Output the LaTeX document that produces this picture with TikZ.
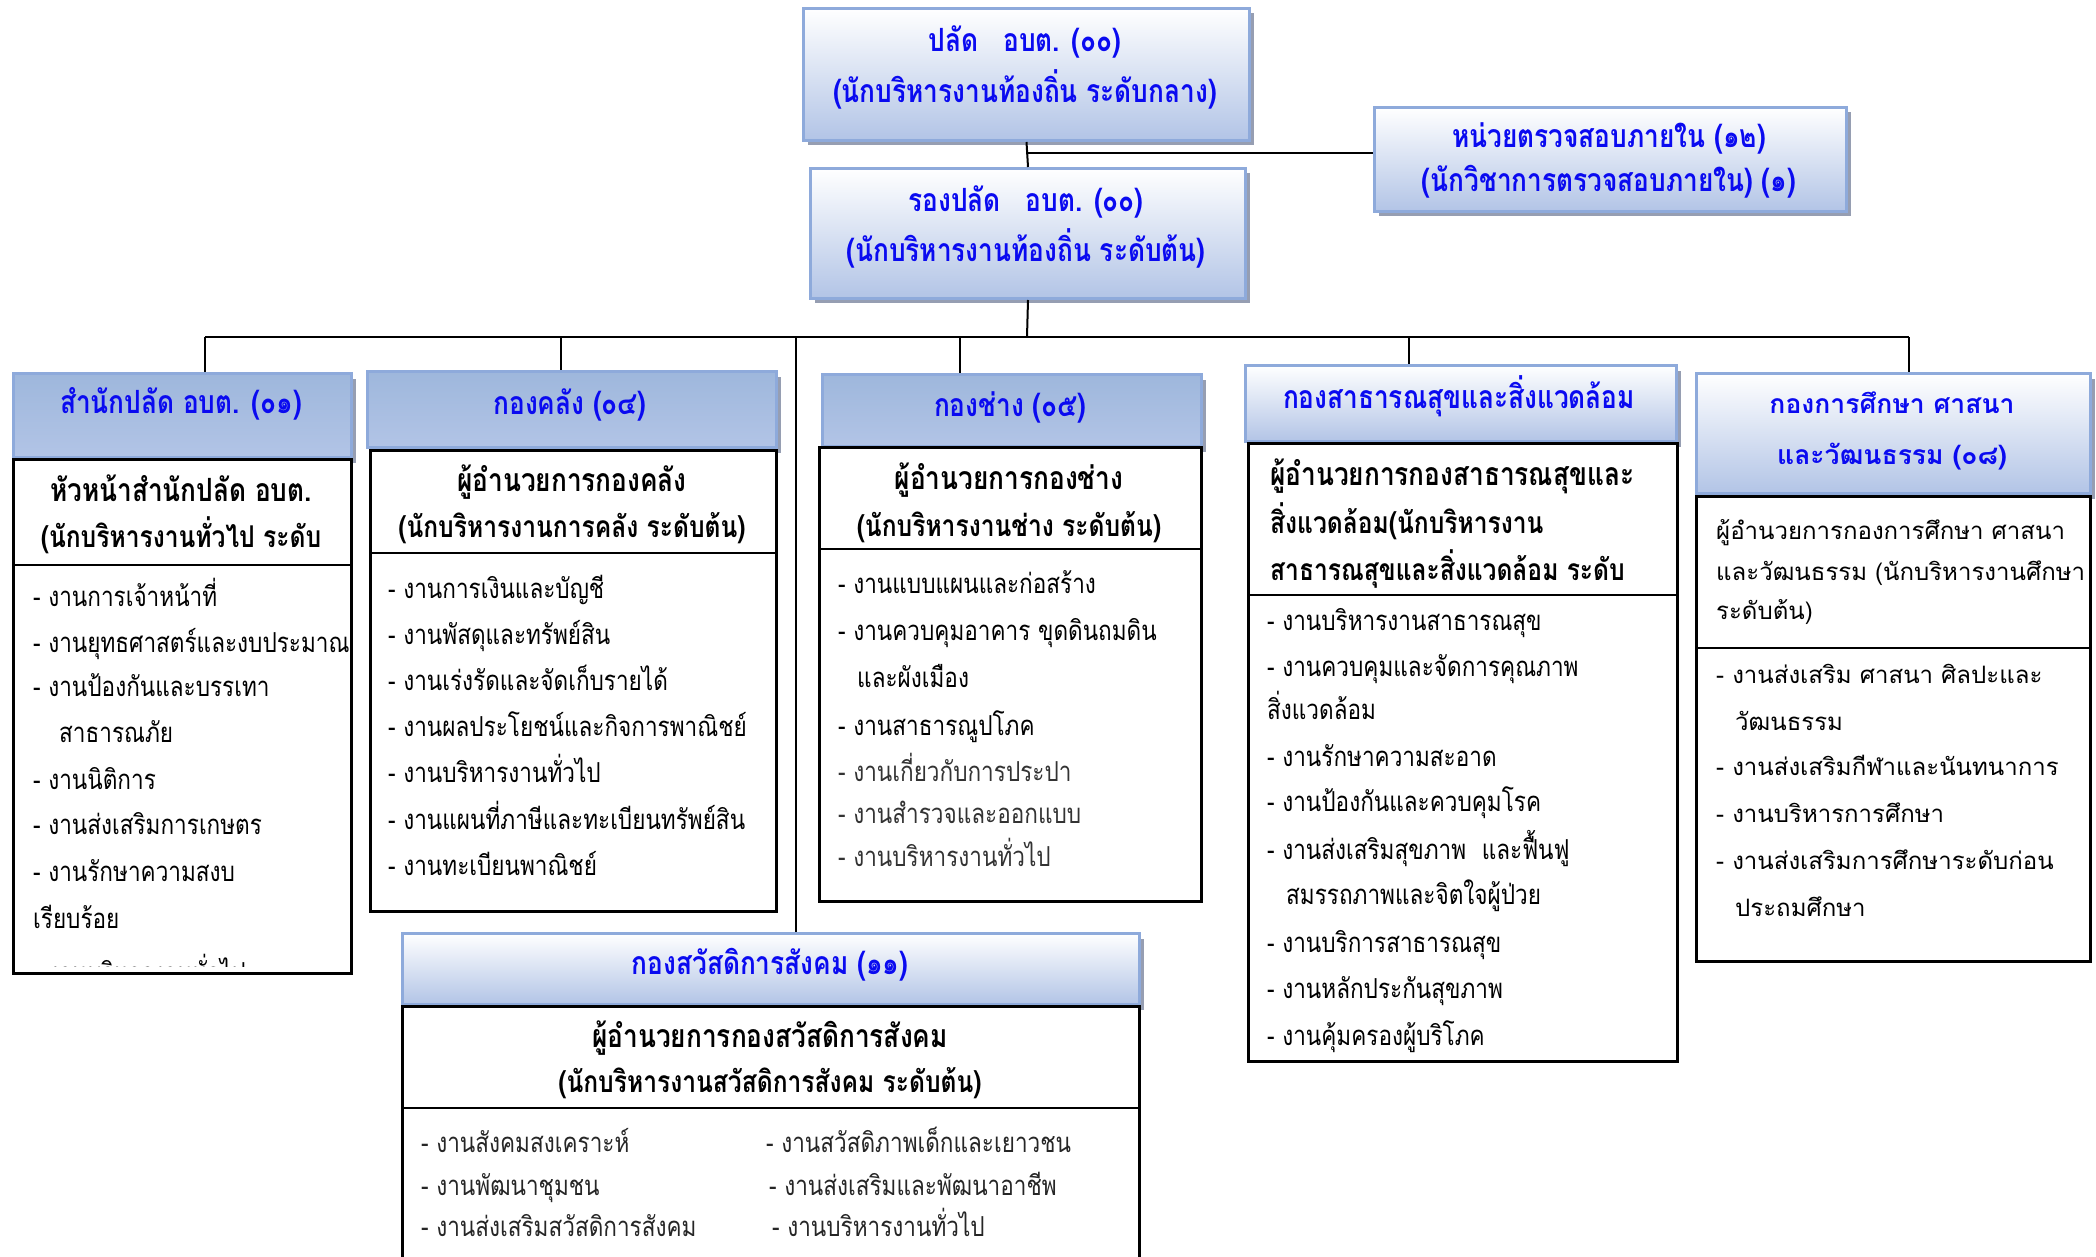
\documentclass[tikz,border=0pt]{standalone}
\usepackage{fontspec}
\setmainfont{Loma}[Script=Thai, FakeStretch=0.82]
\newfontfamily\lomaw{Loma}[Script=Thai]
\usetikzlibrary{shadows}
\definecolor{hdtext}{RGB}{10,10,240}
\definecolor{hdborder}{RGB}{142,170,219}
\definecolor{hdbot}{RGB}{178,196,230}
\definecolor{hdtop}{RGB}{158,183,220}
\definecolor{hdmid}{RGB}{222,231,243}
\definecolor{shad}{RGB}{150,158,178}
\begin{document}
\begin{tikzpicture}[x=1pt,y=-1pt,
  hdr/.style={draw=hdborder, line width=3pt, anchor=north west, inner sep=0pt,
    top color=white, bottom color=hdbot,
    drop shadow={shadow xshift=4pt, shadow yshift=-5pt, fill=shad, opacity=1}},
  hdrb/.style={hdr, top color=hdtop, middle color=hdmid, bottom color=hdbot},
  bodybox/.style={draw=black, line width=2.5pt, anchor=north west, inner sep=0pt, fill=white},
  conn/.style={draw=black, line width=2pt},
  divider/.style={draw=black, line width=2.5pt},
  ttl/.style={anchor=base, inner sep=0pt, text=hdtext, font=\fontsize{32}{36}\selectfont\bfseries},
  ttlw/.style={ttl, font=\fontsize{26.5}{30}\selectfont\bfseries\lomaw},
  hd/.style={anchor=base, inner sep=0pt, font=\fontsize{30}{34}\selectfont\bfseries},
  hdA/.style={hd, font=\fontsize{32}{36}\selectfont\bfseries},
  hdl/.style={hd, anchor=base west},
  hdw/.style={anchor=base west, inner sep=0pt, font=\fontsize{24}{28}\selectfont\lomaw},
  itm/.style={anchor=base west, inner sep=0pt, font=\fontsize{27.5}{32}\selectfont},
  itmw/.style={itm, font=\fontsize{24}{28}\selectfont\lomaw},
  itms/.style={itm, font=\fontsize{27.5}{32}\selectfont, text=black!85},
]
\useasboundingbox (0,0) rectangle (2096,1257);

% ---------- top boxes ----------
\node[hdr, minimum width=446pt, minimum height=132pt] (tp) at (802,7) {};
\node[ttl] (tp1) at (1025,52) {ปลัด\hspace{16pt} อบต. (๐๐)};
\node[ttl] (tp2) at (1025,103) {(นักบริหารงานท้องถิ่น ระดับกลาง)};

\node[hdr, minimum width=435pt, minimum height=130pt] (dp) at (809,167) {};
\node[ttl] (dp1) at (1026,212) {รองปลัด\hspace{16pt} อบต. (๐๐)};
\node[ttl] (dp2) at (1026,262) {(นักบริหารงานท้องถิ่น ระดับต้น)};

\node[hdr, minimum width=472pt, minimum height=104pt] (au) at (1373,106) {};
\node[ttl] (au1) at (1609,148) {หน่วยตรวจสอบภายใน (๑๒)};
\node[ttl] (au2) at (1609,192) {(นักวิชาการตรวจสอบภายใน) (๑)};

% ---------- division headers ----------
\node[hdrb, minimum width=338pt, minimum height=84pt] (h1) at (12,372) {};
\node[hdrb, minimum width=409pt, minimum height=76pt] (h2) at (366,370) {};
\node[hdrb, minimum width=379pt, minimum height=72pt] (h3) at (821,373) {};
\node[hdr, minimum width=431pt, minimum height=76pt] (h4) at (1244,364) {};
\node[hdr, minimum width=394pt, minimum height=120pt] (h5) at (1695,372) {};
\node[hdr, minimum width=737pt, minimum height=71pt] (h6) at (401,932) {};

\node[ttl] (h1t) at (181,413) {สำนักปลัด อบต. (๐๑)};
\node[ttl] (h2t) at (570,414) {กองคลัง (๐๔)};
\node[ttl] (h3t) at (1010,416) {กองช่าง (๐๕)};
\node[ttl] (h4t) at (1459,408) {กองสาธารณสุขและสิ่งแวดล้อม};
\node[ttlw] (h5t1) at (1892,413) {กองการศึกษา ศาสนา};
\node[ttlw] (h5t2) at (1892,464) {และวัฒนธรรม (๐๘)};
\node[ttl] (h6t) at (770,974) {กองสวัสดิการสังคม (๑๑)};

% ---------- bodies ----------
\node[bodybox, minimum width=338pt, minimum height=514pt] (b1) at (12,458) {};
\node[bodybox, minimum width=406pt, minimum height=461pt] (b2) at (369,449) {};
\node[bodybox, minimum width=382pt, minimum height=454pt] (b3) at (818,446) {};
\node[bodybox, minimum width=429pt, minimum height=618pt] (b4) at (1247,442) {};
\node[bodybox, minimum width=394pt, minimum height=465pt] (b5) at (1695,495) {};
\node[bodybox, minimum width=737pt, minimum height=270pt] (b6) at (401,1005) {};

\draw[divider] (12,565) -- (350,565);
\draw[divider] (369,553) -- (775,553);
\draw[divider] (818,549) -- (1200,549);
\draw[divider] (1247,595) -- (1676,595);
\draw[divider] (1695,648) -- (2089,648);
\draw[divider] (401,1108) -- (1138,1108);

% ---------- body headings ----------
\node[hdA] (b1h1) at (181,501) {หัวหน้าสำนักปลัด อบต.};
\node[hd] (b1h2) at (181,547) {(นักบริหารงานทั่วไป ระดับ};
\node[hdA] (b2h1) at (572,491) {ผู้อำนวยการกองคลัง};
\node[hd] (b2h2) at (572,537) {(นักบริหารงานการคลัง ระดับต้น)};
\node[hdA] (b3h1) at (1009,489) {ผู้อำนวยการกองช่าง};
\node[hd] (b3h2) at (1009,536) {(นักบริหารงานช่าง ระดับต้น)};
\node[hdl, font=\fontsize{32}{36}\selectfont\bfseries] (b4h1) at (1270,485) {ผู้อำนวยการกองสาธารณสุขและ};
\node[hdl] (b4h2) at (1270,533) {สิ่งแวดล้อม(นักบริหารงาน};
\node[hdl] (b4h3) at (1270,580) {สาธารณสุขและสิ่งแวดล้อม ระดับ};
\node[hdw] (b5h1) at (1716,539) {ผู้อำนวยการกองการศึกษา ศาสนา};
\node[hdw] (b5h2) at (1716,580) {และวัฒนธรรม (นักบริหารงานศึกษา};
\node[hdw] (b5h3) at (1716,619) {ระดับต้น)};
\node[hdA] (b6h1) at (770,1047) {ผู้อำนวยการกองสวัสดิการสังคม};
\node[hd] (b6h2) at (770,1092) {(นักบริหารงานสวัสดิการสังคม ระดับต้น)};

% ---------- items ----------
\foreach \xx/\yy/\txt [count=\i] in {
  33/606/{- งานการเจ้าหน้าที่},
  33/652/{- งานยุทธศาสตร์และงบประมาณ},
  33/696/{- งานป้องกันและบรรเทา},
  59/742/{สาธารณภัย},
  33/789/{- งานนิติการ},
  33/834/{- งานส่งเสริมการเกษตร},
  33/881/{- งานรักษาความสงบ},
  33/928/{เรียบร้อย}}
  \node[itm] (a\i) at (\xx,\yy) {\txt};
\begin{scope}
  \clip (14,940) rectangle (348,966);
  \node[itm] (a9) at (33,982) {- งานบริหารงานทั่วไป};
\end{scope}

\foreach \xx/\yy/\txt [count=\i] in {
  388/598/{- งานการเงินและบัญชี},
  388/644/{- งานพัสดุและทรัพย์สิน},
  388/690/{- งานเร่งรัดและจัดเก็บรายได้},
  388/736/{- งานผลประโยชน์และกิจการพาณิชย์},
  388/782/{- งานบริหารงานทั่วไป},
  388/829/{- งานแผนที่ภาษีและทะเบียนทรัพย์สิน},
  388/875/{- งานทะเบียนพาณิชย์}}
  \node[itm] (c\i) at (\xx,\yy) {\txt};

\foreach \xx/\yy/\txt [count=\i] in {
  838/593/{- งานแบบแผนและก่อสร้าง},
  838/640/{- งานควบคุมอาคาร ขุดดินถมดิน},
  857/687/{และผังเมือง},
  838/735/{- งานสาธารณูปโภค}}
  \node[itm] (d\i) at (\xx,\yy) {\txt};
\foreach \xx/\yy/\txt [count=\i] in {
  838/781/{- งานเกี่ยวกับการประปา},
  838/823/{- งานสำรวจและออกแบบ},
  838/866/{- งานบริหารงานทั่วไป}}
  \node[itm, text=black!80] (e\i) at (\xx,\yy) {\txt};

\foreach \xx/\yy/\txt [count=\i] in {
  1267/630/{- งานบริหารงานสาธารณสุข},
  1267/676/{- งานควบคุมและจัดการคุณภาพ},
  1267/719/{สิ่งแวดล้อม},
  1267/766/{- งานรักษาความสะอาด},
  1267/811/{- งานป้องกันและควบคุมโรค},
  1267/859/{- งานส่งเสริมสุขภาพ\hspace{8pt} และฟื้นฟู},
  1286/904/{สมรรถภาพและจิตใจผู้ป่วย},
  1267/952/{- งานบริการสาธารณสุข},
  1267/998/{- งานหลักประกันสุขภาพ},
  1267/1045/{- งานคุ้มครองผู้บริโภค}}
  \node[itm] (f\i) at (\xx,\yy) {\txt};

\foreach \xx/\yy/\txt [count=\i] in {
  1716/683/{- งานส่งเสริม ศาสนา ศิลปะและ},
  1735/730/{วัฒนธรรม},
  1716/775/{- งานส่งเสริมกีฬาและนันทนาการ},
  1716/822/{- งานบริหารการศึกษา},
  1716/869/{- งานส่งเสริมการศึกษาระดับก่อน},
  1735/916/{ประถมศึกษา}}
  \node[itmw] (g\i) at (\xx,\yy) {\txt};

\foreach \xx/\yy/\txt [count=\i] in {
  421/1152/{- งานสังคมสงเคราะห์},
  421/1195/{- งานพัฒนาชุมชน},
  421/1236/{- งานส่งเสริมสวัสดิการสังคม},
  766/1152/{- งานสวัสดิภาพเด็กและเยาวชน},
  769/1195/{- งานส่งเสริมและพัฒนาอาชีพ},
  772/1236/{- งานบริหารงานทั่วไป}}
  \node[itms] (k\i) at (\xx,\yy) {\txt};

% ---------- connectors ----------
\draw[conn] (tp.south) -- (dp.north);
\coordinate (j1) at (1027,153);
\draw[conn] (j1) -- (j1 -| au.west);
\coordinate (bus) at (1027,337);
\draw[conn] (dp.south) -- (bus);
\coordinate (x1) at (205,337);
\coordinate (x2) at (561,337);
\coordinate (x6) at (796,337);
\coordinate (x3) at (960,337);
\coordinate (x4) at (1409,337);
\coordinate (x5) at (1909,337);
\draw[conn] (x1) -- (x5);
\draw[conn] (x1) -- (x1 |- h1.north);
\draw[conn] (x2) -- (x2 |- h2.north);
\draw[conn] (x6) -- (x6 |- h6.north);
\draw[conn] (x3) -- (x3 |- h3.north);
\draw[conn] (x4) -- (x4 |- h4.north);
\draw[conn] (x5) -- (x5 |- h5.north);
\end{tikzpicture}
\end{document}
